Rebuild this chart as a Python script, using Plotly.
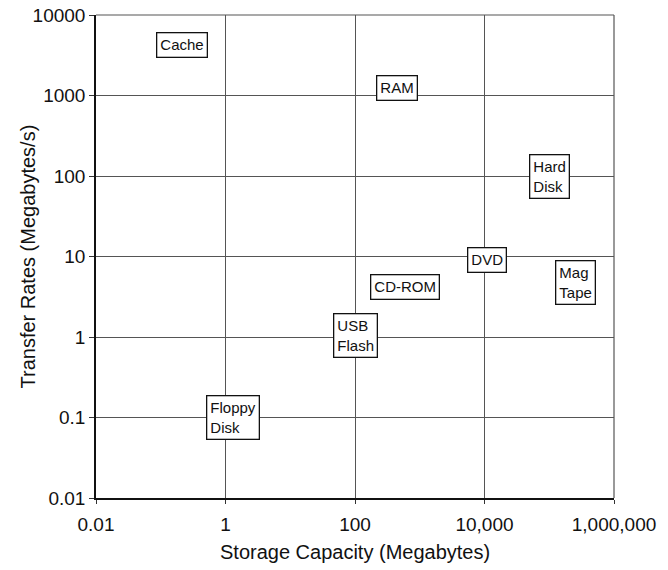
import numpy as np
import plotly.graph_objects as go

# Data
devices = ["Cache", "RAM", "Hard<br>Disk", "DVD", "Mag<br>Tape", "CD-ROM", "USB<br>Flash", "Floppy<br>Disk"]
capacity_mb = [0.21, 450, 100000, 11000, 250000, 600, 100, 1.3]
transfer_mbps = [4300, 1250, 100, 9, 4.7, 4.2, 1.05, 0.1]

x_tickvals = [0.01, 1, 100, 10000, 1000000]
x_ticktext = ["0.01", "1", "100", "10,000", "1,000,000"]
y_tickvals = [0.01, 0.1, 1, 10, 100, 1000, 10000]
y_ticktext = ["0.01", "0.1", "1", "10", "100", "1000", "10000"]

FONT = "Liberation Sans, Arial, sans-serif"

fig = go.Figure()
fig.add_trace(go.Scatter(x=capacity_mb, y=transfer_mbps, mode="markers",
                         marker=dict(size=1, color="rgba(0,0,0,0)"),
                         hoverinfo="skip", showlegend=False))

for name, cx, cy in zip(devices, capacity_mb, transfer_mbps):
    fig.add_annotation(x=np.log10(cx), y=np.log10(cy), xref="x", yref="y",
                       text=name, showarrow=False, align="left",
                       font=dict(family=FONT, size=15, color="#111"),
                       bgcolor="white", bordercolor="#111", borderwidth=1.3,
                       borderpad=3)

fig.update_xaxes(type="log", range=[-2, 6], tickvals=x_tickvals, ticktext=x_ticktext,
                 showgrid=True, gridcolor="#555", gridwidth=1,
                 showline=True, linecolor="#111", linewidth=1.5,
                 ticks="outside", ticklen=4, tickcolor="#333",
                 ticklabeloverflow="allow", automargin=False, ticklabelstandoff=4,
                 tickfont=dict(family=FONT, size=19, color="#111"),
                 zeroline=False)
fig.update_yaxes(type="log", range=[-2, 4], tickvals=y_tickvals, ticktext=y_ticktext,
                 showgrid=True, gridcolor="#555", gridwidth=1,
                 showline=True, linecolor="#111", linewidth=1.5,
                 ticks="outside", ticklen=5, tickcolor="#333",
                 ticklabeloverflow="allow", automargin=False,
                 tickfont=dict(family=FONT, size=19, color="#111"),
                 zeroline=False)

# axis titles
fig.add_annotation(text="Storage Capacity (Megabytes)", xref="paper", yref="paper",
                   x=0.5, y=0, yshift=-54, xanchor="center", yanchor="middle",
                   showarrow=False, font=dict(family=FONT, size=20, color="#111"))
fig.add_annotation(text="Transfer Rates (Megabytes/s)", xref="paper", yref="paper",
                   x=0, y=0.5, xshift=-69, xanchor="center", yanchor="middle",
                   textangle=-90, showarrow=False,
                   font=dict(family=FONT, size=20, color="#111"))

# top and right borders
fig.add_shape(type="line", xref="x domain", yref="y domain", x0=0, x1=1, y0=1, y1=1,
              line=dict(color="#555", width=1.2))
fig.add_shape(type="line", xref="x domain", yref="y domain", x0=1, x1=1, y0=0, y1=1,
              line=dict(color="#555", width=1.2))

fig.update_layout(width=668, height=570,
                  margin=dict(l=96, r=54, t=15, b=72),
                  plot_bgcolor="white", paper_bgcolor="white",
                  showlegend=False)

fig.write_html("out.html", config={"displayModeBar": False},
               post_script="document.body.style.margin='0';document.body.style.overflow='hidden';")
